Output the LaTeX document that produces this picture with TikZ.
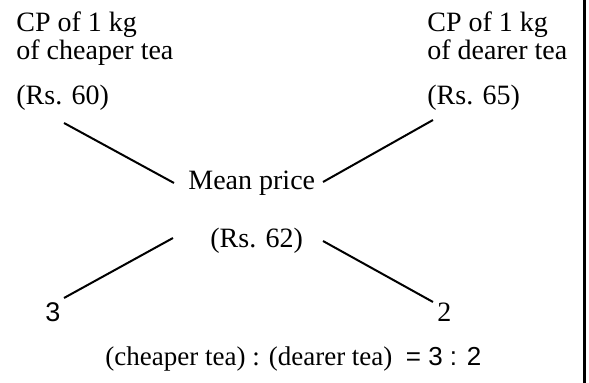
\documentclass[tikz,border=0pt]{standalone}
\usepackage{fontspec}
\setmainfont{Liberation Serif}
\newfontfamily\sansdig{Liberation Sans}
\begin{document}
\begin{tikzpicture}[x=0.5pt,y=-0.5pt,
  txt/.style={inner sep=0pt, anchor=base west, font=\fontsize{14}{14}\selectfont},
  link/.style={line width=1pt},
  frame/.style={line width=1.5pt}]
\useasboundingbox (0,0) rectangle (589,383);
% left column
\node[txt] (cheapA) at (16,32) {CP of 1 kg};
\node[txt] (cheapB) at (16,60) {of cheaper tea};
\node[txt] (cheapP) at (16,105) {(Rs. 60)};
% right column
\node[txt] (dearA) at (427,32) {CP of 1 kg};
\node[txt] (dearB) at (427,60) {of dearer tea};
\node[txt] (dearP) at (427,105) {(Rs. 65)};
% centre
\node[txt] (mean) at (188,190) {Mean price};
\node[txt] (meanP) at (210,248) {(Rs. 62)};
% ratios
\node[txt, font=\fontsize{13.5}{14}\sansdig] (three) at (45,322) {3};
\node[txt] (two) at (437,322) {2};
\node[txt, font=\fontsize{13.5}{14}\selectfont] (result) at (105,366)
  {(cheaper tea) : (dearer tea)\ \ {\fontsize{13}{14}\sansdig = 3 : 2}};
% connector end points
\coordinate (c1) at (64,123);
\coordinate (c2) at (174,183);
\coordinate (d1) at (433,120);
\coordinate (d2) at (323,182);
\coordinate (e1) at (173,238);
\coordinate (e2) at (64,298);
\coordinate (f1) at (323,241);
\coordinate (f2) at (433,302);
\draw[link] (c1) -- (c2);
\draw[link] (d1) -- (d2);
\draw[link] (e1) -- (e2);
\draw[link] (f1) -- (f2);
% right border
\coordinate (bt) at (584.5,0);
\coordinate (bb) at (584.5,383);
\draw[frame] (bt) -- (bb);
\end{tikzpicture}
\end{document}
